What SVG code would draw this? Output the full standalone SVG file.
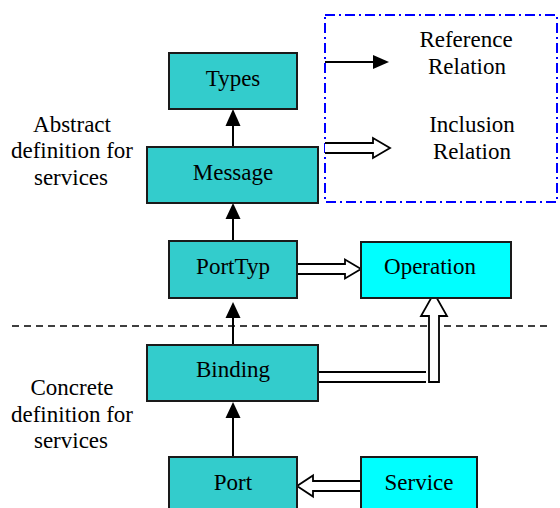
<svg xmlns="http://www.w3.org/2000/svg" width="560" height="508" viewBox="0 0 560 508">
  <style>
    .box { stroke: #1a1a1a; stroke-width: 2; }
    .abs { fill: #33CCCC; }
    .ext { fill: #00FFFF; }
    .lbl { font-family: 'Liberation Serif', 'DejaVu Serif', serif; font-size: 23px; fill: #000; text-anchor: middle; }
    .ref { stroke: #000; stroke-width: 2; fill: none; }
    .inc { stroke: #000; stroke-width: 1.8; fill: #fff; stroke-linejoin: miter; }
    .head { fill: #000; }
  </style>
  <rect width="560" height="508" fill="#fff"/>

  <!-- divider between abstract and concrete parts -->
  <line x1="12" y1="326" x2="552" y2="326" stroke="#000" stroke-width="1.6" stroke-dasharray="7 5"/>

  <!-- legend frame -->
  <g id="legend">
    <rect x="325" y="15" width="232" height="187" fill="none" stroke="#0000FF" stroke-width="2" stroke-dasharray="10 4 2 4"/>
    <line class="ref" x1="325" y1="62" x2="374" y2="62"/>
    <polygon class="head" points="373,55 389,62 373,69"/>
    <path class="inc" d="M325,143 H373 V138 L390,148 L373,158 V153 H325"/>
    <text class="lbl" x="466" y="47" font-family="Liberation Serif, serif">Reference</text>
    <text class="lbl" x="467" y="74">Relation</text>
    <text class="lbl" x="472" y="132">Inclusion</text>
    <text class="lbl" x="472" y="159">Relation</text>
  </g>

  <!-- side captions -->
  <g id="captions">
    <text class="lbl" x="72" y="132">Abstract</text>
    <text class="lbl" x="72" y="158">definition for</text>
    <text class="lbl" x="71" y="185">services</text>
    <text class="lbl" x="72" y="395">Concrete</text>
    <text class="lbl" x="72" y="422">definition for</text>
    <text class="lbl" x="71" y="448">services</text>
  </g>

  <!-- connectors -->
  <g id="connectors">
    <line class="ref" x1="233" y1="147" x2="233" y2="124"/>
    <polygon class="head" points="233,109 225.5,126 240.5,126"/>
    <line class="ref" x1="233" y1="241" x2="233" y2="218"/>
    <polygon class="head" points="233,203 225.5,219 240.5,219"/>
    <line class="ref" x1="233" y1="345" x2="233" y2="317"/>
    <polygon class="head" points="233,302 225.5,318 240.5,318"/>
    <line class="ref" x1="233" y1="457" x2="233" y2="416"/>
    <polygon class="head" points="233,402 225.5,418 240.5,418"/>
    <path class="inc" d="M297,264 H345 V259.5 L361,269 L345,278.5 V274 H297 Z"/>
    <path class="inc" d="M361,481 H313 V475.5 L297,486 L313,496.5 V491 H361"/>
    <path class="ref" d="M318,372 H426 M318,382 H426" stroke-width="1.8"/>
    <path class="inc" d="M429,382 H439 V316 H447 L434,293 L421,316 H429 Z"/>
  </g>

  <!-- nodes -->
  <g id="types">
    <rect class="box abs" x="169" y="53" width="128" height="56"/>
    <text class="lbl" x="233" y="86">Types</text>
  </g>
  <g id="message">
    <rect class="box abs" x="147" y="147" width="171" height="56"/>
    <text class="lbl" x="233" y="180">Message</text>
  </g>
  <g id="porttyp">
    <rect class="box abs" x="169" y="241" width="128" height="57"/>
    <text class="lbl" x="233" y="274">PortTyp</text>
  </g>
  <g id="operation">
    <rect class="box ext" x="361" y="242" width="150" height="56"/>
    <text class="lbl" x="430" y="274">Operation</text>
  </g>
  <g id="binding">
    <rect class="box abs" x="147" y="345" width="171" height="56"/>
    <text class="lbl" x="233" y="377">Binding</text>
  </g>
  <g id="port">
    <rect class="box abs" x="169" y="457" width="128" height="60"/>
    <text class="lbl" x="233" y="490">Port</text>
  </g>
  <g id="service">
    <rect class="box ext" x="361" y="457" width="116" height="60"/>
    <text class="lbl" x="419" y="490">Service</text>
  </g>
</svg>
